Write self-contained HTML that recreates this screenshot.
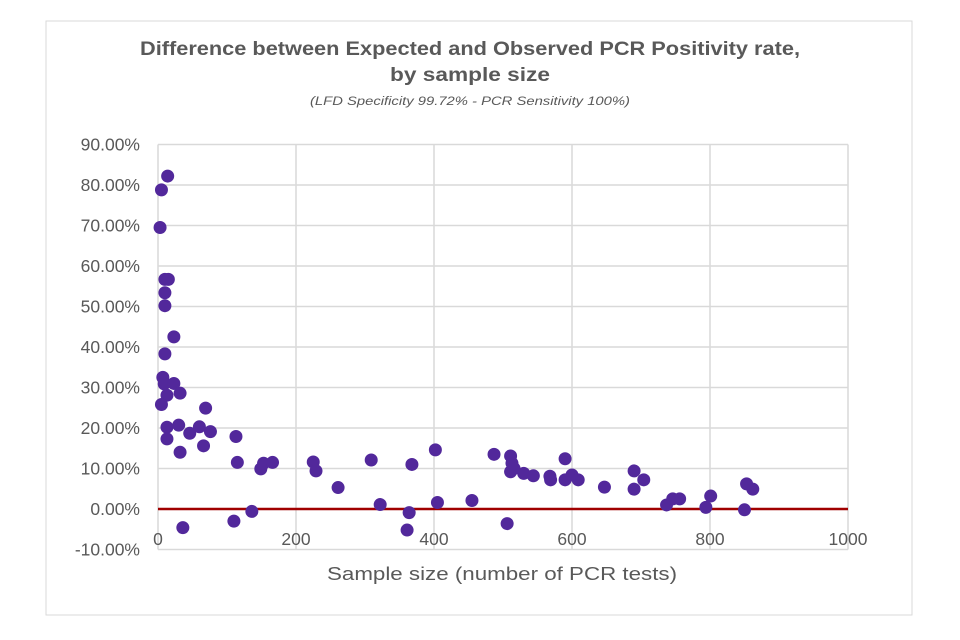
<!DOCTYPE html>
<html><head><meta charset="utf-8"><style>
html,body{margin:0;padding:0;background:#fff;}
svg{display:block;font-family:"Liberation Sans",sans-serif;}
</style></head>
<body>
<svg id="chart" width="960" height="640" viewBox="0 0 960 640">
<rect x="46" y="21" width="866" height="594" fill="#fff" stroke="#d9d9d9" stroke-width="1"/>
<text x="470" y="55" text-anchor="middle" font-size="19" font-weight="bold" fill="#595959" textLength="660" lengthAdjust="spacingAndGlyphs">Difference between Expected and Observed PCR Positivity rate,</text>
<text x="470" y="81" text-anchor="middle" font-size="19" font-weight="bold" fill="#595959" textLength="160" lengthAdjust="spacingAndGlyphs">by sample size</text>
<text x="470" y="105" text-anchor="middle" font-size="12" font-style="italic" fill="#595959" textLength="320" lengthAdjust="spacingAndGlyphs">(LFD Specificity 99.72% - PCR Sensitivity 100%)</text>
<g id="grid"></g>
<g id="points"></g>
<text x="502" y="580" text-anchor="middle" font-size="18" fill="#595959" textLength="350" lengthAdjust="spacingAndGlyphs">Sample size (number of PCR tests)</text>
</svg>
<script>
const xTicks=[0,200,400,600,800,1000];
const yTicks=[-10,0,10,20,30,40,50,60,70,80,90];
const sampleSizes=[14,5,3,10,15,10,10,23,10,7,9,23,13,32,5,13,30,13,32,46,60,69,66,76,113,36,115,149,153,166,110,136,225,229,261,309,322,364,361,368,402,405,455,487,506,511,513,511,516,530,544,568,569,590,590,600,609,647,690,690,704,737,746,756,794,801,850,853,862];
const diffs=[82.2,78.8,69.5,56.7,56.7,53.4,50.2,42.5,38.3,32.5,30.9,31,28.1,28.6,25.8,20.2,20.7,17.3,14.0,18.7,20.3,24.9,15.6,19.1,17.9,-4.6,11.5,9.9,11.3,11.5,-3.0,-0.6,11.6,9.4,5.3,12.1,1.1,-0.9,-5.2,11.0,14.6,1.6,2.1,13.5,-3.6,13.1,11.3,9.2,10,8.8,8.2,8.1,7.2,12.4,7.2,8.4,7.2,5.4,9.4,4.9,7.2,1.0,2.5,2.5,0.4,3.2,-0.2,6.2,4.9];
const NS='http://www.w3.org/2000/svg';
const X0=158,X1=848,Y0=509,YP=4.05;
function sx(v){return X0+(v-0)/1000*(X1-X0);}
function sy(v){return Y0-v*YP;}
const grid=document.getElementById('grid');
function mk(tag,attrs,parent){const e=document.createElementNS(NS,tag);for(const k in attrs)e.setAttribute(k,attrs[k]);parent.appendChild(e);return e;}
yTicks.forEach(t=>{
  if(t!==0){
    const l=mk('line',{x1:X0,x2:X1,y1:sy(t),y2:sy(t),stroke:'#d9d9d9','stroke-width':1.5},grid);
    
    
  }
  const tx=mk('text',{x:140,y:sy(t)+6,'text-anchor':'end','font-size':17.5,fill:'#595959'},grid);
  tx.textContent=t.toFixed(2)+'%';
  
  
});
xTicks.forEach(t=>{
  const l=mk('line',{x1:sx(t),x2:sx(t),y1:sy(90),y2:sy(-10),stroke:'#d9d9d9','stroke-width':1.5},grid);
  
  
  const tx=mk('text',{x:sx(t),y:545,'text-anchor':'middle','font-size':17.5,fill:'#595959'},grid);
  tx.textContent=t;
  
  
});
const zl=mk('line',{x1:X0,x2:X1,y1:sy(0),y2:sy(0),stroke:'#a00000','stroke-width':2.5},grid);


const pts=document.getElementById('points');
sampleSizes.forEach((s,i)=>{
  const c=mk('circle',{cx:sx(s),cy:sy(diffs[i]),r:6.5,fill:'#52289b'},pts);
  
  
});
</script>
</body></html>
